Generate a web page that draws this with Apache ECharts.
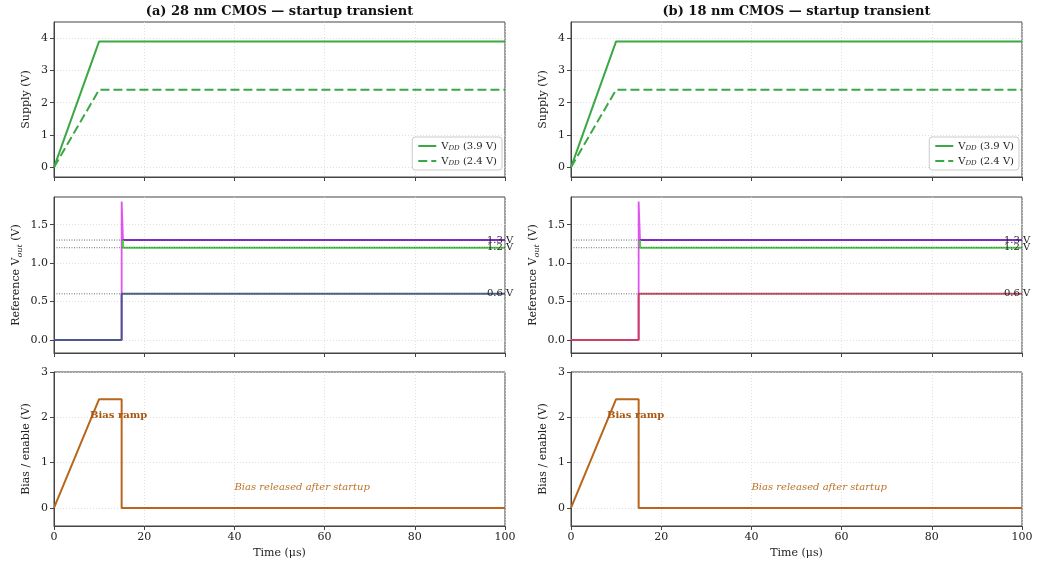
<!DOCTYPE html>
<html>
<head>
<meta charset="utf-8">
<script src="https://cdn.jsdelivr.net/npm/echarts@6/dist/echarts.min.js"></script>
<style>html,body{margin:0;padding:0;background:#fff}#c{width:1038px;height:566px}</style>
</head>
<body>
<div id="c"></div>
<script>
// ---- data ----
const timeSupply = [0, 10, 100];
const vdd39 = [0, 3.9, 3.9];
const vdd24 = [0, 2.4, 2.4];

const time06 = [0, 15, 15, 100];
const ref06 = [0, 0, 0.6, 0.6];
const timeSpike = [0, 15, 15, 15.3, 100];
const ref13Spike = [0, 0, 1.8, 1.3, 1.3];
const time13 = [15.3, 100];
const ref13 = [1.3, 1.3];
const time12 = [15.3, 15.3, 100];
const ref12 = [1.3, 1.2, 1.2];
const refLevels = [1.3, 1.2, 0.6];
const refLabels = ['1.3 V', '1.2 V', '0.6 V'];
const refLabelTime = 96;

const timeBias = [0, 10, 15, 15, 100];
const bias = [0, 2.4, 2.4, 0, 0];
const biasNotes = [
  { t: 8, v: 2.05, text: 'Bias ramp' },
  { t: 40, v: 0.45, text: 'Bias released after startup' }
];

const panelTitles = ['(a) 28 nm CMOS — startup transient', '(b) 18 nm CMOS — startup transient'];
const lowRefColors = ['#3b5588', '#c93c58'];

// ---- layout ----
const FONT = 'DejaVu Serif';
const TXT = '#222';
const panelLeft = [54, 571];
const panelWidth = 451;
const rows = [
  { top: 22, height: 155, min: -0.3, max: 4.5, interval: 1, ticks: [0, 1, 2, 3, 4], name: 'Supply (V)', gap: 20, fmt: v => String(v) },
  { top: 197, height: 156, min: -0.17, max: 1.86, interval: 0.5, ticks: [0, 0.5, 1, 1.5], name: 'Reference {n|V}{s|out}{n| (V)}', gap: 30, fmt: v => v.toFixed(1) },
  { top: 372, height: 154, min: -0.4, max: 3, interval: 1, ticks: [0, 1, 2, 3], name: 'Bias / enable (V)', gap: 20, fmt: v => String(v) }
];

const zip = (xs, ys) => xs.map((x, i) => [x, ys[i]]);

const grids = [], xAxes = [], yAxes = [], series = [], graphics = [], legends = [];
const green = '#3aa845';
const biasColor = '#b8661c';

for (let p = 0; p < 2; p++) {
  rows.forEach((r, ri) => {
    grids.push({ left: panelLeft[p], width: panelWidth, top: r.top, height: r.height, show: true, borderColor: '#444', borderWidth: 1, backgroundColor: 'transparent' });
    const last = ri === 2;
    xAxes.push({
      type: 'value', gridIndex: p * 3 + ri, min: 0, max: 100, interval: 20,
      axisLine: { show: true, onZero: false, lineStyle: { color: '#444', width: 1 } },
      axisTick: { show: true, length: 4, lineStyle: { color: '#444' } },
      axisLabel: { show: last, color: TXT, fontFamily: FONT, fontSize: 11, margin: 6 },
      splitLine: { show: true, lineStyle: { color: '#d8d8d8', type: [1, 2], width: 0.8 } },
      name: last ? 'Time (μs)' : '', nameLocation: 'middle', nameGap: 22,
      nameTextStyle: { color: TXT, fontFamily: FONT, fontSize: 11 }
    });
    yAxes.push({
      type: 'value', gridIndex: p * 3 + ri, min: r.min, max: r.max, interval: r.interval,
      axisLine: { show: true, onZero: false, lineStyle: { color: '#444', width: 1 } },
      axisTick: { show: true, length: 4, lineStyle: { color: '#444' }, customValues: r.ticks },
      axisLabel: {
        color: TXT, fontFamily: FONT, fontSize: 11, margin: 6, customValues: r.ticks,
        formatter: v => (r.ticks.some(t => Math.abs(t - v) < 1e-9) ? r.fmt(v) : '')
      },
      splitLine: { show: true, lineStyle: { color: '#d8d8d8', type: [1, 2], width: 0.8 } },
      name: r.name, nameLocation: 'middle', nameGap: r.gap, nameRotate: 90,
      nameTextStyle: {
        color: TXT, fontFamily: FONT, fontSize: 11, lineHeight: 15,
        rich: {
          n: { color: TXT, fontFamily: FONT, fontSize: 11, lineHeight: 15 },
          s: { color: TXT, fontFamily: FONT, fontSize: 8, fontStyle: 'italic', lineHeight: 8, verticalAlign: 'bottom' }
        }
      }
    });
  });

  const gi = p * 3;
  // supply
  series.push({ name: 'vdd39', type: 'line', xAxisIndex: gi, yAxisIndex: gi, data: zip(timeSupply, vdd39), symbol: 'none', lineStyle: { color: green, width: 2 }, itemStyle: { color: green } });
  series.push({ name: 'vdd24', type: 'line', xAxisIndex: gi, yAxisIndex: gi, data: zip(timeSupply, vdd24), symbol: 'none', lineStyle: { color: green, width: 2, type: [9, 4] }, itemStyle: { color: green } });
  legends.push({
    data: ['vdd39', 'vdd24'], orient: 'vertical',
    right: p === 0 ? 1038 - 502 : 1038 - 1019, top: 137,
    itemWidth: 18, itemHeight: 10, itemGap: 4, padding: [4, 5, 3, 5],
    itemStyle: { opacity: 0, borderWidth: 0 },
    backgroundColor: 'rgba(255,255,255,0.85)', borderColor: '#ccc', borderWidth: 1, borderRadius: 3,
    formatter: n => n === 'vdd39' ? '{n|V}{s|DD}{n| (3.9 V)}' : '{n|V}{s|DD}{n| (2.4 V)}',
    textStyle: {
      fontFamily: FONT, fontSize: 10, color: TXT,
      rich: {
        n: { fontFamily: FONT, fontSize: 10, color: TXT, lineHeight: 12 },
        s: { fontFamily: FONT, fontSize: 7, fontStyle: 'italic', color: TXT, lineHeight: 7, verticalAlign: 'bottom' }
      }
    }
  });

  // reference
  const gr = p * 3 + 1;
  series.push({ type: 'line', xAxisIndex: gr, yAxisIndex: gr, data: zip(timeSpike, ref13Spike), symbol: 'none', lineStyle: { color: '#dd40ee', width: 1.8, opacity: 0.9 }, z: 3 });
  series.push({ type: 'line', xAxisIndex: gr, yAxisIndex: gr, data: zip(time13, ref13), symbol: 'none', lineStyle: { color: '#7d22d6', width: 2, opacity: 0.9 }, z: 4 });
  series.push({ type: 'line', xAxisIndex: gr, yAxisIndex: gr, data: zip(time12, ref12), symbol: 'none', lineStyle: { color: '#3ccc33', width: 2, opacity: 0.9 }, z: 4 });
  series.push({ type: 'line', xAxisIndex: gr, yAxisIndex: gr, data: zip(time06, ref06), symbol: 'none', lineStyle: { color: lowRefColors[p], width: 2, opacity: 0.9 }, z: 5 });
  refLevels.forEach((lv, k) => {
    series.push({ type: 'line', xAxisIndex: gr, yAxisIndex: gr, data: [[0, lv], [100, lv]], symbol: 'none', silent: true, lineStyle: { color: '#444', width: 0.8, type: [1, 1.5] }, z: 6 });
    series.push({
      type: 'scatter', xAxisIndex: gr, yAxisIndex: gr, data: [[refLabelTime, lv]], symbolSize: 0, silent: true, z: 7,
      itemStyle: { opacity: 1 },
      label: { show: true, position: 'right', distance: 0, formatter: refLabels[k], fontFamily: FONT, fontSize: 10, color: '#222', opacity: 1 }
    });
  });

  // bias
  const gb = p * 3 + 2;
  series.push({ type: 'line', xAxisIndex: gb, yAxisIndex: gb, data: zip(timeBias, bias), symbol: 'none', lineStyle: { color: biasColor, width: 2 } });
  biasNotes.forEach((nt, k) => {
    series.push({
      type: 'scatter', xAxisIndex: gb, yAxisIndex: gb, data: [[nt.t, nt.v]], symbolSize: 0, silent: true, z: 7,
      itemStyle: { opacity: 1 },
      label: {
        show: true, position: 'right', distance: 0, formatter: nt.text, fontFamily: FONT, fontSize: 10, opacity: 1,
        color: k === 0 ? '#a8570f' : '#bb7228',
        fontWeight: k === 0 ? 'bold' : 'normal', fontStyle: k === 0 ? 'normal' : 'italic'
      }
    });
  });

  graphics.push({
    type: 'text', x: panelLeft[p] + panelWidth / 2, y: 12,
    style: { text: panelTitles[p], fill: '#111', font: 'bold 13px "DejaVu Serif"', align: 'center', verticalAlign: 'middle' }
  });
}

const chart = echarts.init(document.getElementById('c'));
chart.setOption({
  animation: false,
  backgroundColor: '#fff',
  grid: grids, xAxis: xAxes, yAxis: yAxes, series: series, legend: legends, graphic: graphics
});
</script>
</body>
</html>
